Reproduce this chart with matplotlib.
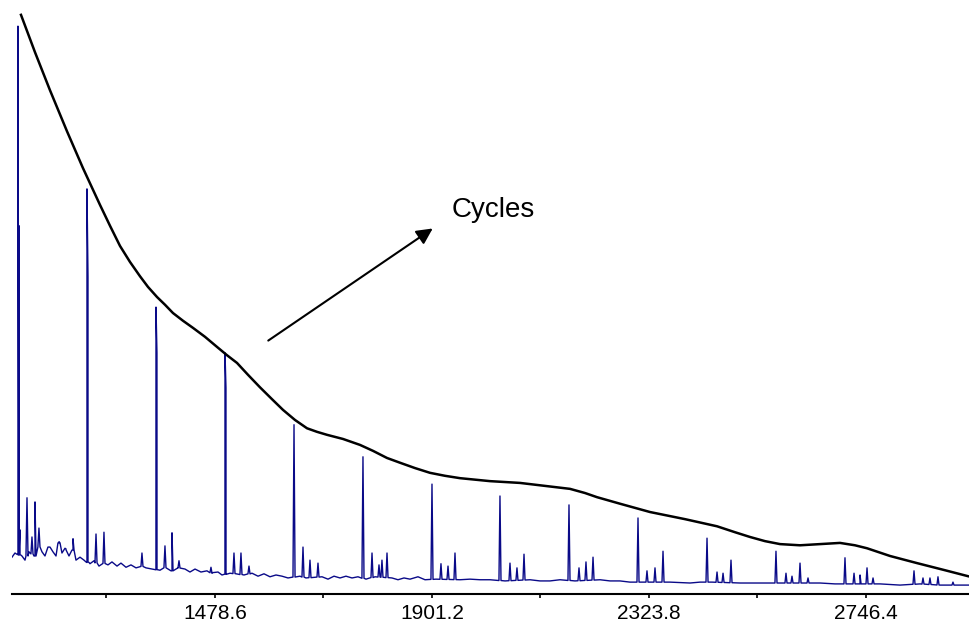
import matplotlib.pyplot as plt
import numpy as np

plt.rcParams['font.family'] = ['Liberation Sans', 'DejaVu Sans']

# main cycle peaks (m/z, relative intensity)
major_mz = [1094.9, 1229.3, 1363.7, 1498.1, 1632.5, 1766.8, 1901.2,
            2033.6, 2168.0, 2302.4, 2436.8, 2571.1, 2705.5, 2839.9]
major_int = [95.6, 68.2, 48.3, 40.6, 28.5, 23.1, 18.5,
             16.5, 15.0, 12.8, 9.4, 7.2, 6.1, 3.9]

# isotope shoulders next to the first main peaks
shoulder_mz = [1096.9, 1231.3, 1365.6, 1500.0]
shoulder_int = [62.0, 53.4, 40.6, 34.7]

# side peaks
minor_mz = [1098.8, 1112.5, 1122.2, 1128.1, 1135.8, 1155.3, 1174.8, 1186.5, 1202.1,
            1246.9, 1262.4,
            1336.4, 1381.2, 1394.9, 1408.5,
            1470.8, 1515.6, 1529.2, 1544.8,
            1650.0, 1663.6, 1679.2,
            1784.4, 1798.0, 1803.8, 1813.6,
            1918.7, 1932.4, 1946.0,
            2053.1, 2066.7, 2080.4,
            2187.5, 2201.1, 2214.8,
            2319.9, 2335.5, 2351.1,
            2456.3, 2468.0, 2483.5,
            2590.6, 2602.3, 2617.9, 2633.5,
            2723.1, 2734.8, 2748.4, 2760.1,
            2857.4, 2871.0, 2886.6, 2915.8]
minor_int = [10.8, 16.2, 9.6, 15.5, 11.1, 7.9, 8.8, 7.7, 9.3,
             10.1, 10.4,
             6.9, 8.1, 10.3, 5.6,
             4.5, 6.9, 6.9, 4.7,
             7.9, 5.7, 5.2,
             6.9, 4.9, 5.7, 6.9,
             5.1, 4.7, 6.9,
             5.2, 4.4, 6.7,
             4.4, 5.4, 6.2,
             3.9, 4.4, 7.2,
             3.7, 3.5, 5.7,
             3.5, 3.0, 5.2, 2.7,
             3.5, 3.2, 4.4, 2.7,
             2.7, 2.7, 2.9, 2.0]

# noisy baseline
base_mz = [1083.3, 1089.1, 1102.7, 1108.6, 1116.4, 1128.1, 1133.9, 1141.7, 1147.5,
           1155.3, 1163.1, 1169.0, 1174.8, 1180.6, 1188.4, 1194.3, 1202.1, 1207.9,
           1215.7, 1223.5, 1235.2, 1243.0, 1252.7, 1260.5, 1270.2, 1278.0, 1287.8,
           1295.5, 1305.3, 1315.0, 1324.8, 1334.5, 1344.2, 1355.9, 1371.5, 1383.2,
           1394.9, 1406.5, 1420.2, 1429.9, 1439.7, 1451.3, 1463.0, 1472.8, 1484.5,
           1492.2, 1507.8, 1519.5, 1535.1, 1550.7, 1562.4, 1574.0, 1585.7, 1597.4,
           1609.1, 1620.8, 1644.1, 1655.8, 1687.0, 1698.7, 1710.4, 1722.1, 1733.7,
           1745.4, 1757.1, 1772.7, 1790.2, 1823.3, 1835.0, 1846.7, 1858.4, 1873.9,
           1887.6, 1909.0, 1955.8, 1975.2, 1994.7, 2014.2, 2043.4, 2092.1, 2111.5,
           2131.0, 2150.5, 2179.7, 2228.4, 2247.9, 2267.3, 2286.8, 2325.8, 2364.7,
           2403.7, 2423.2, 2446.5, 2501.1, 2539.9, 2559.5, 2598.4, 2656.9, 2686.0,
           2734.8, 2773.7, 2812.7, 2851.6, 2890.5, 2947.0]
base_int = [6.2, 6.9, 6.4, 5.7, 7.1, 6.4, 8.2, 7.1, 6.4,
            7.9, 7.1, 6.4, 8.6, 6.9, 7.6, 6.4, 7.4, 5.7,
            6.2, 5.7, 5.1, 5.6, 4.7, 5.2, 4.9, 5.4, 4.7,
            5.2, 4.5, 4.9, 4.4, 4.7, 4.4, 4.2, 4.0, 4.5,
            3.9, 4.4, 4.2, 3.7, 4.2, 3.7, 3.9, 3.5, 3.7,
            3.2, 3.5, 3.4, 3.2, 3.5, 3.0, 3.4, 2.9, 3.2,
            3.0, 2.7, 3.0, 2.7, 2.9, 2.5, 3.0, 2.7, 3.0,
            2.7, 2.9, 2.5, 2.9, 2.7, 2.4, 2.7, 2.5, 2.9,
            2.4, 2.5, 2.4, 2.5, 2.4, 2.4, 2.2, 2.4, 2.2,
            2.2, 2.4, 2.2, 2.4, 2.2, 2.2, 2.0, 2.0, 2.0,
            1.85, 2.0, 2.0, 1.85, 1.85, 1.85, 1.85, 1.85, 1.7,
            1.7, 1.7, 1.5, 1.7, 1.5, 1.5]

# envelope of the main peaks
env_mz = [1100.8, 1128.1, 1157.3, 1190.4, 1221.5, 1254.7, 1274.1, 1293.6, 1313.1,
          1332.5, 1348.1, 1365.7, 1381.2, 1396.8, 1416.3, 1435.8, 1459.1, 1482.5,
          1502.0, 1521.5, 1542.9, 1566.2, 1589.6, 1611.0, 1634.4, 1657.8, 1677.3,
          1696.7, 1727.9, 1761.0, 1786.3, 1813.6, 1838.9, 1868.1, 1897.3, 1926.5,
          1955.8, 2014.2, 2072.6, 2121.3, 2170.0, 2199.2, 2222.6, 2267.3, 2325.8,
          2394.0, 2456.3, 2491.3, 2520.5, 2549.7, 2579.0, 2617.9, 2656.9, 2695.8,
          2725.0, 2748.4, 2793.2, 2845.8, 2900.3, 2945.0]
env_int = [97.5, 91.2, 84.8, 77.9, 71.7, 65.5, 62.0, 58.6, 55.9,
           53.5, 51.7, 50.0, 48.7, 47.3, 46.0, 44.8, 43.3, 41.6,
           40.2, 38.9, 36.9, 34.8, 32.8, 31.0, 29.3, 27.9, 27.3,
           26.8, 26.1, 25.1, 24.1, 22.9, 22.1, 21.2, 20.4, 19.9,
           19.5, 19.0, 18.7, 18.2, 17.7, 17.0, 16.3, 15.2, 13.8,
           12.6, 11.4, 10.4, 9.6, 8.9, 8.4, 8.2, 8.4, 8.6,
           8.2, 7.7, 6.4, 5.2, 4.0, 3.0]

tick_vals = [1478.6, 1901.2, 2323.8, 2746.4]
minor_vals = [1267.3, 1689.9, 2112.5, 2535.1]

# build the spectrum trace: baseline plus a narrow spike for every peak
pk_mz = np.array(major_mz + shoulder_mz + minor_mz)
pk_int = np.array(major_int + shoulder_int + minor_int)
w = 2.0
pk_base = np.interp(pk_mz, base_mz, base_int)
xs = np.concatenate([base_mz, pk_mz - w, pk_mz, pk_mz + w])
ys = np.concatenate([base_int, pk_base, pk_int, pk_base])
order = np.argsort(xs, kind='stable')
xs, ys = xs[order], ys[order]

fig = plt.figure(figsize=(9.69, 6.21), dpi=100)
ax = fig.add_axes([12 / 969, 27 / 621, 957 / 969, 594 / 621])

ax.plot(xs, ys, color='#0a0a88', lw=1.0)
ax.plot(env_mz, env_int, color='black', lw=1.8, solid_joinstyle='round')

ax.annotate('', xy=(1907.1, 61.8), xytext=(1577.9, 42.4),
            arrowprops=dict(arrowstyle='-|>', color='black', lw=1.5, mutation_scale=24))
ax.text(1940.2, 63.5, 'Cycles', fontsize=20, ha='left', va='baseline')

ax.set_xlim(1083.3, 2947.0)
ax.set_ylim(0, 100)
ax.set_xticks(tick_vals)
ax.set_xticklabels([f'{v:.1f}' for v in tick_vals], fontsize=15)
ax.set_xticks(minor_vals, minor=True)
ax.tick_params(axis='x', which='both', direction='out', length=3, width=1.2, pad=4)
ax.set_yticks([])
for s in ['left', 'right', 'top']:
    ax.spines[s].set_visible(False)
ax.spines['bottom'].set_linewidth(1.5)
ax.patch.set_alpha(0)

fig.savefig('out.png', dpi=100)
